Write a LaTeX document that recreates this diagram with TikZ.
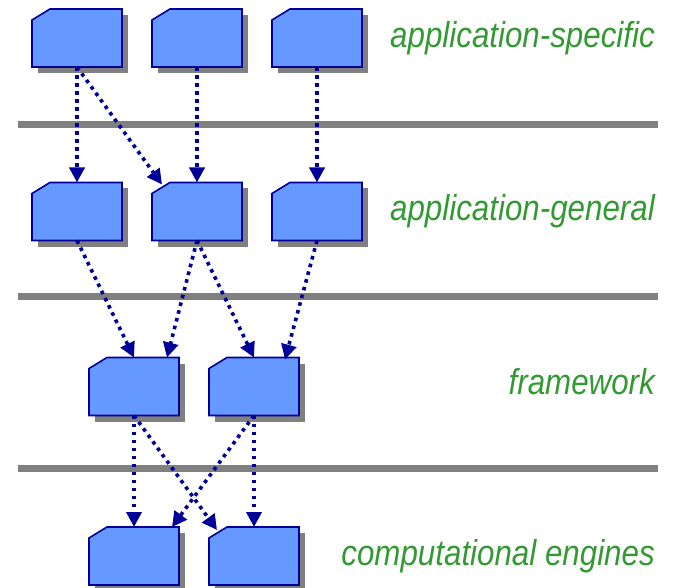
\documentclass[tikz,border=0pt]{standalone}
\usepackage{fontspec}
\setmainfont{Liberation Sans}
\usetikzlibrary{arrows.meta,calc}
\definecolor{boxfill}{HTML}{6699FF}
\definecolor{navy}{HTML}{000099}
\definecolor{rulegray}{HTML}{808080}
\definecolor{layergreen}{HTML}{339933}
\tikzset{
  modframe/.style={rectangle, minimum width=90pt, minimum height=58pt,
    inner sep=0pt, outer sep=0pt},
  modbody/.style={draw=navy, line width=1.6pt, fill=boxfill, line join=miter},
  modshadow/.style={fill=rulegray},
  dep/.style={draw=navy, line width=3.6pt, dash pattern=on 3.6pt off 4.4pt,
    -{Triangle[length=15pt,width=15pt]}},
  layerrule/.style={draw=rulegray, line width=7pt},
  layername/.style={anchor=base east, text=layergreen, inner sep=0pt,
    font=\fontsize{36}{40}\selectfont\itshape}
}
\newcommand{\lname}[1]{\scalebox{0.87}[1]{#1}}
% a module: named frame, drop shadow, body with the top-left corner cut off
\newcommand{\modbox}[3]{%
  \node[modframe] (#1) at (#2,#3) {};
  \fill[modshadow] ([xshift=6pt,yshift=-6pt]#1.south west)
    rectangle ([xshift=6pt,yshift=-6pt]#1.north east);
  \path[modbody] ([yshift=-11pt]#1.north west) -- ([xshift=18pt]#1.north west)
    -- (#1.north east) -- (#1.south east) -- (#1.south west) -- cycle;
}
\begin{document}
\begin{tikzpicture}[x=1pt,y=-1pt]
\useasboundingbox (0,0) rectangle (677,588);

% layer separators
\coordinate (r1a) at (18,124.5); \coordinate (r1b) at (658,124.5);
\coordinate (r2a) at (18,296);   \coordinate (r2b) at (658,296);
\coordinate (r3a) at (18,468);   \coordinate (r3b) at (658,468);
\draw[layerrule] (r1a) -- (r1b);
\draw[layerrule] (r2a) -- (r2b);
\draw[layerrule] (r3a) -- (r3b);

% modules
\modbox{a1}{77}{38}
\modbox{a2}{197}{38}
\modbox{a3}{317}{38}
\modbox{b1}{77}{211.5}
\modbox{b2}{197}{211.5}
\modbox{b3}{317}{211.5}
\modbox{c1}{134}{386.5}
\modbox{c2}{254}{386.5}
\modbox{d1}{134}{556}
\modbox{d2}{254}{556}

% layer names
\node[layername] (n1) at (655,48)  {\lname{application-specific}};
\node[layername] (n2) at (655,221) {\lname{application-general}};
\node[layername] (n3) at (655,394) {\lname{framework}};
\node[layername] (n4) at (655,565) {\lname{computational engines}};

% dependencies
\draw[dep] (a1.south) -- (b1.north);
\draw[dep] (a1.south) -- ([xshift=-35pt,yshift=-2pt]b2.north);
\draw[dep] (a2.south) -- (b2.north);
\draw[dep] (a3.south) -- (b3.north);
\draw[dep] (b1.south) -- (c1.north);
\draw[dep] (b2.south) -- ([xshift=33pt]c1.north);
\draw[dep] (b2.south) -- (c2.north);
\draw[dep] (b3.south) -- ([xshift=31pt,yshift=-2pt]c2.north);
\draw[dep] (c1.south) -- (d1.north);
\draw[dep] (c1.south) -- ([xshift=-37pt,yshift=-3pt]d2.north);
\draw[dep] (c2.south) -- ([xshift=38pt]d1.north);
\draw[dep] (c2.south) -- (d2.north);
\end{tikzpicture}
\end{document}
